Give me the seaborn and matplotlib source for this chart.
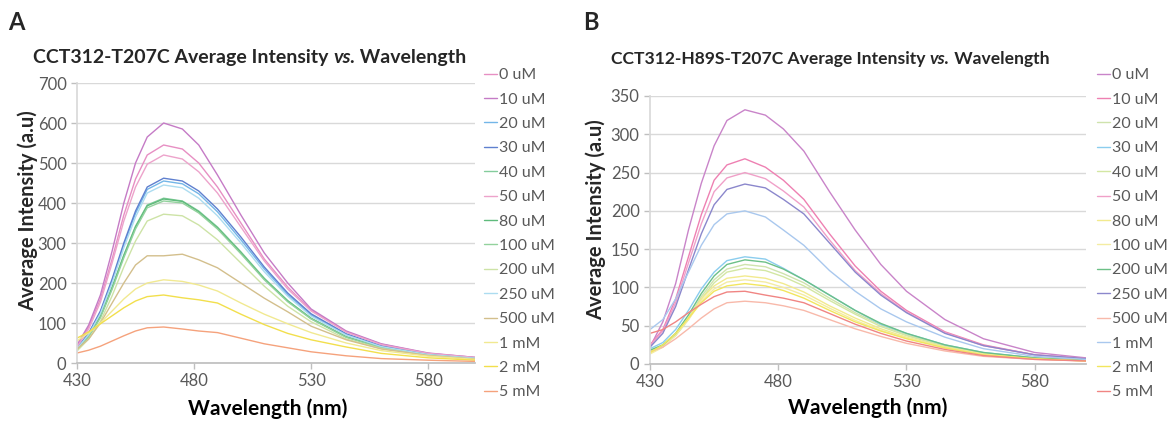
import matplotlib
matplotlib.use('Agg')
import matplotlib.pyplot as plt
import pandas as pd
import seaborn as sns
from matplotlib.offsetbox import TextArea, HPacker, AnchoredOffsetbox

wavelength = [430, 435, 440, 445, 450, 455, 460, 467, 475, 482, 490, 500, 510, 520, 530, 545, 560, 580, 600]

conc = ['0 uM', '10 uM', '20 uM', '30 uM', '40 uM', '50 uM', '80 uM', '100 uM',
        '200 uM', '250 uM', '500 uM', '1 mM', '2 mM', '5 mM']

# panel A: CCT312-T207C
a_0uM = [42, 90, 160, 260, 370, 460, 520, 545, 535, 500, 440, 350, 260, 190, 132, 78, 47, 24, 14]
a_10uM = [45, 95, 170, 280, 400, 500, 565, 600, 585, 545, 470, 370, 275, 200, 135, 80, 48, 25, 14]
a_20uM = [37, 73, 127, 206, 295, 374, 434, 455, 448, 423, 378, 308, 235, 171, 120, 71, 42, 22, 12]
a_30uM = [38, 75, 130, 210, 300, 380, 440, 462, 455, 430, 385, 315, 240, 175, 123, 73, 43, 22, 13]
a_40uM = [34, 68, 118, 190, 270, 342, 395, 412, 405, 380, 340, 278, 212, 156, 112, 66, 39, 20, 11]
a_50uM = [40, 85, 152, 250, 355, 440, 497, 520, 510, 478, 425, 340, 255, 185, 130, 77, 46, 24, 14]
a_80uM = [33, 67, 116, 188, 268, 340, 393, 410, 404, 378, 338, 276, 210, 155, 111, 65, 39, 20, 11]
a_100uM = [32, 65, 113, 184, 263, 335, 388, 405, 400, 375, 335, 273, 208, 153, 110, 64, 38, 20, 11]
a_200uM = [30, 60, 104, 168, 240, 305, 355, 372, 368, 345, 308, 250, 192, 142, 103, 60, 36, 19, 10]
a_250uM = [36, 71, 124, 200, 288, 365, 425, 445, 438, 412, 368, 300, 228, 167, 117, 70, 41, 21, 12]
a_500uM = [35, 60, 100, 150, 200, 245, 268, 268, 272, 258, 238, 200, 162, 128, 92, 58, 35, 19, 10]
a_1mM = [55, 75, 100, 130, 160, 185, 200, 208, 204, 195, 180, 150, 122, 98, 76, 50, 31, 17, 9]
a_2mM = [62, 78, 98, 118, 138, 155, 166, 170, 163, 158, 150, 122, 96, 74, 58, 40, 24, 13, 7]
a_5mM = [25, 32, 42, 55, 68, 80, 88, 90, 85, 80, 76, 62, 48, 38, 28, 18, 11, 7, 4]

# panel B: CCT312-H89S-T207C
b_0uM = [22, 55, 105, 175, 236, 285, 318, 332, 325, 307, 278, 225, 175, 130, 95, 58, 33, 15, 8]
b_10uM = [25, 45, 85, 140, 195, 240, 260, 268, 257, 240, 215, 170, 128, 95, 70, 42, 25, 12, 7]
b_20uM = [17, 24, 38, 60, 88, 110, 124, 130, 127, 118, 106, 86, 67, 51, 38, 24, 14, 8, 5]
b_30uM = [20, 28, 45, 70, 98, 120, 135, 140, 137, 125, 110, 90, 70, 52, 40, 25, 15, 8, 5]
b_40uM = [16, 23, 37, 58, 85, 106, 120, 125, 122, 114, 102, 83, 65, 49, 37, 23, 14, 7, 5]
b_50uM = [24, 43, 80, 132, 183, 225, 243, 250, 242, 226, 205, 162, 122, 92, 68, 41, 24, 12, 7]
b_80uM = [14, 22, 38, 60, 85, 102, 112, 115, 112, 105, 94, 76, 60, 46, 35, 22, 13, 7, 4]
b_100uM = [13, 22, 38, 58, 82, 98, 107, 110, 107, 100, 90, 73, 57, 44, 34, 21, 13, 7, 4]
b_200uM = [18, 25, 40, 64, 92, 115, 130, 136, 133, 124, 110, 90, 70, 53, 40, 25, 15, 8, 5]
b_250uM = [22, 40, 75, 123, 170, 208, 228, 235, 230, 215, 196, 158, 120, 90, 67, 40, 24, 12, 7]
b_500uM = [16, 22, 33, 46, 60, 72, 80, 82, 80, 76, 70, 58, 46, 36, 27, 17, 10, 6, 4]
b_1mM = [45, 58, 85, 120, 155, 182, 196, 200, 192, 175, 155, 122, 95, 72, 55, 35, 20, 10, 6]
b_2mM = [15, 25, 40, 60, 80, 95, 102, 105, 102, 96, 86, 70, 55, 43, 33, 21, 12, 7, 4]
b_5mM = [40, 45, 55, 67, 78, 88, 94, 95, 90, 86, 80, 66, 52, 40, 30, 19, 11, 6, 4]

a_series = [a_0uM, a_10uM, a_20uM, a_30uM, a_40uM, a_50uM, a_80uM, a_100uM,
            a_200uM, a_250uM, a_500uM, a_1mM, a_2mM, a_5mM]
b_series = [b_0uM, b_10uM, b_20uM, b_30uM, b_40uM, b_50uM, b_80uM, b_100uM,
            b_200uM, b_250uM, b_500uM, b_1mM, b_2mM, b_5mM]

a_colors = ['#e78fc3', '#c57bc6', '#73b6e8', '#5f80cf', '#84cc9c', '#eda3cb', '#5fbb7c',
            '#93d29d', '#cde3a6', '#acdcf0', '#d3bf8c', '#f1e991', '#f2df4c', '#f5a27c']
b_colors = ['#c984c9', '#ee80b2', '#cfe3ad', '#8bcdee', '#d3e7a3', '#f0a0c8', '#f2ea8e',
            '#f4eca2', '#6cc087', '#8b87cc', '#f8b9aa', '#a9c8ee', '#f2e65e', '#f08583']


def to_frame(series):
    rows = []
    for name, vals in zip(conc, series):
        for w, v in zip(wavelength, vals):
            rows.append({'Wavelength': w, 'Intensity': v, 'Concentration': name})
    return pd.DataFrame(rows)


sns.set_theme(style='white')
plt.rcParams['font.family'] = ['Lato', 'DejaVu Sans']
grey = '#595959'

fig = plt.figure(figsize=(11.67, 4.25), dpi=100)
W, H = 1167, 425

panels = [
    dict(df=to_frame(a_series), colors=a_colors, rect=(77, 83, 475, 363), ymax=700, ystep=100,
         title='CCT312-T207C Average Intensity ', tsize=14.0, title_xy=(33, 48), letter='A',
         letter_xy=(8, 22), ylab_xy=(28, 211), xlab_x=0.48, leg_x=484),
    dict(df=to_frame(b_series), colors=b_colors, rect=(650, 96, 1086, 364), ymax=350, ystep=50,
         title='CCT312-H89S-T207C Average Intensity ', tsize=12.6, title_xy=(611, 49), letter='B',
         letter_xy=(583, 22), ylab_xy=(596, 220), xlab_x=0.5, leg_x=1097),
]

for p in panels:
    x0, y0, x1, y1 = p['rect']
    ax = fig.add_axes([x0 / W, 1 - y1 / H, (x1 - x0) / W, (y1 - y0) / H])
    pal = dict(zip(conc, p['colors']))
    sns.lineplot(data=p['df'], x='Wavelength', y='Intensity', hue='Concentration',
                 hue_order=conc, palette=pal, lw=1.0, ax=ax)
    ax.set_xlim(430, 600)
    ax.set_ylim(0, p['ymax'])
    ax.set_xticks([430, 480, 530, 580])
    ax.set_yticks(range(0, p['ymax'] + 1, p['ystep']))
    ax.yaxis.grid(True, color='#d9d9d9', lw=1.0)
    ax.set_axisbelow(True)
    for s in ['top', 'right']:
        ax.spines[s].set_visible(False)
    ax.spines['left'].set_color('#d9d9d9')
    ax.spines['bottom'].set_color('#bfbfbf')
    ax.tick_params(axis='both', labelsize=12, labelcolor=grey, colors='#bfbfbf',
                   length=4, width=1, direction='out', left=True, bottom=True)
    ax.set_xlabel('Wavelength (nm)', fontsize=15, fontweight='bold', color='black', labelpad=6)
    ax.xaxis.set_label_coords(p['xlab_x'], -0.125)
    ax.set_ylabel('')
    lx, ly = p['ylab_xy']
    fig.text(lx / W, 1 - ly / H, 'Average Intensity (a.u)', rotation=90, fontsize=14.5,
             fontweight='bold', ha='center', va='center')

    handles, labels = ax.get_legend_handles_labels()
    ax.get_legend().remove()
    fig.legend(handles, labels, loc='upper left', bbox_to_anchor=(p['leg_x'] / W, 1 - 68 / H),
               frameon=False, fontsize=11.5, labelcolor=grey, handlelength=0.8, handletextpad=0.15,
               labelspacing=0.64, borderpad=0, borderaxespad=0)

    ts = p['tsize']
    parts = [TextArea(p['title'], textprops=dict(fontsize=ts, fontweight='bold')),
             TextArea('vs.', textprops=dict(fontsize=ts, fontweight='bold', fontstyle='italic')),
             TextArea(' Wavelength', textprops=dict(fontsize=ts, fontweight='bold'))]
    box = HPacker(children=parts, align='baseline', pad=0, sep=0)
    tx, ty = p['title_xy']
    anch = AnchoredOffsetbox(loc='lower left', child=box, pad=0, borderpad=0, frameon=False,
                             bbox_to_anchor=(tx / W, 1 - (ty + 18) / H),
                             bbox_transform=fig.transFigure)
    fig.add_artist(anch)

    px, py = p['letter_xy']
    fig.text(px / W, 1 - py / H, p['letter'], fontsize=17, fontweight='bold', ha='left', va='center')

plt.savefig('out.png', dpi=100)
plt.close()
